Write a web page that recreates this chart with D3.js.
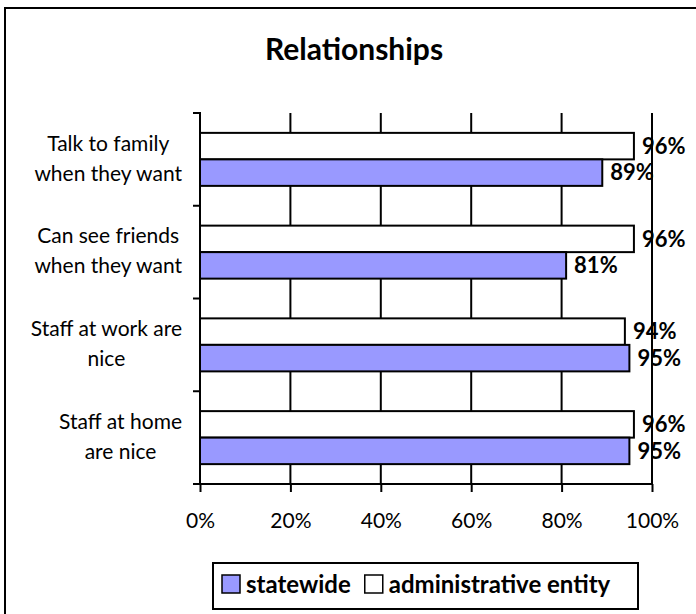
<!DOCTYPE html>
<html>
<head>
<meta charset="utf-8">
<script src="https://cdn.jsdelivr.net/npm/d3@7"></script>
<style>
  html, body { margin: 0; padding: 0; background: #fff; }
  svg { display: block; }
  text { font-family: Lato, "Open Sans", sans-serif; fill: #000; }
</style>
</head>
<body>
<svg id="chart" width="696" height="614"></svg>
<script>
const categories = [
  ["Talk to family", "when they want"],
  ["Can see friends", "when they want"],
  ["Staff at work are", "nice"],
  ["Staff at home", "are nice"]
];
const seriesNames = ["administrative entity", "statewide"];
const adminValues = [96, 96, 94, 96];
const statewideValues = [89, 81, 95, 95];
const xTicks = [0, 20, 40, 60, 80, 100];
const title = "Relationships";
const legendOrder = ["statewide", "administrative entity"];
const colors = { "statewide": "#9999FF", "administrative entity": "#FFFFFF" };

const svg = d3.select("#chart");
const plot = { left: 200, right: 652, top: 113, bottom: 484 };

// outer border (extends beyond visible area at right/bottom)
svg.append("rect").attr("x", 5).attr("y", 8).attr("width", 720).attr("height", 640)
  .attr("fill", "#fff").attr("stroke", "#000").attr("stroke-width", 2);

svg.append("text").attr("x", 354).attr("y", 60).attr("text-anchor", "middle")
  .attr("font-size", 30).attr("font-weight", "bold").text(title);

const catKeys = categories.map(c => c.join(" "));
const x = d3.scaleLinear().domain([0, 100]).range([plot.left, plot.right]);
const y0 = d3.scaleBand().domain(catKeys).range([plot.top, plot.bottom]).padding(0);
const y1 = d3.scaleBand().domain(seriesNames).range([0, y0.bandwidth()]).paddingInner(0).paddingOuter(0.75);

// gridlines
svg.append("g").selectAll("line").data(xTicks.filter(t => t > 0)).join("line")
  .attr("x1", d => x(d)).attr("x2", d => x(d))
  .attr("y1", plot.top).attr("y2", plot.bottom)
  .attr("stroke", "#000").attr("stroke-width", 2);

// bars
const rows = catKeys.map((k, i) => ({ key: k, values: [
  { s: "administrative entity", v: adminValues[i] },
  { s: "statewide", v: statewideValues[i] }
]}));

const gRows = svg.append("g").selectAll("g").data(rows).join("g")
  .attr("transform", d => `translate(0,${y0(d.key)})`);
gRows.selectAll("rect").data(d => d.values).join("rect")
  .attr("x", x(0)).attr("y", d => y1(d.s))
  .attr("width", d => x(d.v) - x(0)).attr("height", y1.bandwidth())
  .attr("fill", d => colors[d.s]).attr("stroke", "#000").attr("stroke-width", 2);

// x axis
const xAxis = d3.axisBottom(x).tickValues(xTicks).tickFormat(d => d + "%").tickSize(8).tickPadding(21);
const gx = svg.append("g").attr("transform", `translate(0,${plot.bottom})`).call(xAxis);
gx.select(".domain").remove();
gx.selectAll(".tick line").attr("stroke", "#000").attr("stroke-width", 2);
gx.selectAll(".tick text").attr("font-size", 21).attr("font-family", "Lato, sans-serif").attr("fill", "#000");
svg.append("line").attr("x1", plot.left - 7).attr("x2", plot.right + 1)
  .attr("y1", plot.bottom).attr("y2", plot.bottom).attr("stroke", "#000").attr("stroke-width", 2);

// y axis line and ticks at band boundaries
svg.append("line").attr("x1", plot.left).attr("x2", plot.left)
  .attr("y1", plot.top - 1).attr("y2", plot.bottom + 1).attr("stroke", "#000").attr("stroke-width", 2);
const bounds = catKeys.map(k => y0(k)).concat([plot.bottom]);
svg.append("g").selectAll("line").data(bounds).join("line")
  .attr("x1", plot.left - 7).attr("x2", plot.left)
  .attr("y1", d => d).attr("y2", d => d).attr("stroke", "#000").attr("stroke-width", 2);

// category labels: lines centered in a block right-aligned at x=182
const labelRight = 182, lineH = 30;
categories.forEach((lines, i) => {
  const cy = y0(catKeys[i]) + y0.bandwidth() / 2;
  const g = svg.append("g");
  const texts = lines.map((ln, j) => g.append("text")
    .attr("font-size", 21).attr("text-anchor", "middle")
    .attr("y", cy + (j - (lines.length - 1) / 2) * lineH - 1)
    .attr("dy", "0.35em").text(ln));
  const maxW = d3.max(texts, t => t.node().getComputedTextLength());
  texts.forEach(t => t.attr("x", labelRight - maxW / 2));
});

// data labels
gRows.selectAll("text.val").data(d => d.values).join("text").attr("class", "val")
  .attr("x", d => x(d.v) + 8).attr("y", d => y1(d.s) + y1.bandwidth() / 2)
  .attr("dy", "0.35em").attr("font-size", 22).attr("font-weight", "bold")
  .text(d => d.v + "%");

// legend
const lg = svg.append("g");
lg.append("rect").attr("x", 213).attr("y", 563).attr("width", 425).attr("height", 46)
  .attr("fill", "#fff").attr("stroke", "#000").attr("stroke-width", 2);
let lx = 222;
legendOrder.forEach(name => {
  lg.append("rect").attr("x", lx).attr("y", 575).attr("width", 18).attr("height", 18)
    .attr("fill", colors[name]).attr("stroke", "#000").attr("stroke-width", 1.5);
  const t = lg.append("text").attr("x", lx + 24).attr("y", 585).attr("dy", "0.35em")
    .attr("font-size", 24).attr("font-weight", "bold").text(name);
  lx += 24 + t.node().getComputedTextLength() + 14;
});
</script>
</body>
</html>
